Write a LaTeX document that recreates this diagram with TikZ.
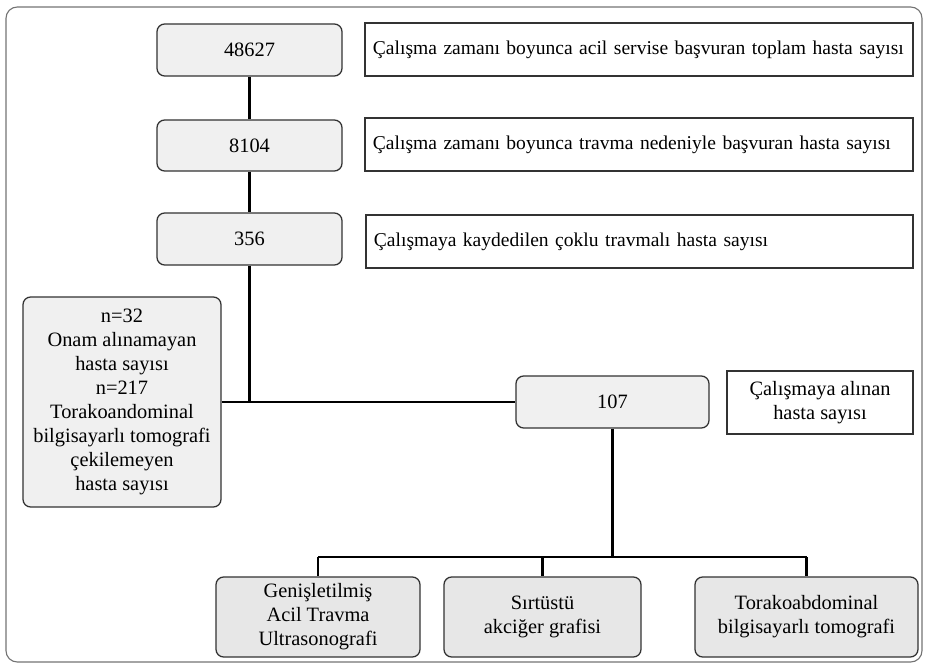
\documentclass[tikz,border=0pt]{standalone}
\usepackage{fontspec}
\setmainfont{Liberation Serif}
\begin{document}
\begin{tikzpicture}[x=0.025cm,y=-0.025cm,
  gbox/.style={draw=black!80,line width=0.9pt,rounded corners=5.5pt,fill=gray!12,inner sep=2pt,align=center,font=\fontsize{14.5}{17}\selectfont},
  dbox/.style={gbox,fill=gray!19},
  wbox/.style={draw=black!80,line width=0.9pt,fill=white,inner sep=0pt,font=\fontsize{13.9}{17}\selectfont},
  link/.style={line width=2pt,black}]

\useasboundingbox (0,0) rectangle (928,668);
\draw[black!55,line width=0.8pt,rounded corners=8pt] (6,7) rectangle (922,662);

% main column
\node[gbox,minimum width=4.625cm,minimum height=1.3cm] (A) at (249.5,50) {48627};
\node[gbox,minimum width=4.625cm,minimum height=1.275cm] (B) at (249.5,145.5) {8104};
\node[gbox,minimum width=4.625cm,minimum height=1.3cm] (C) at (249.5,239) {356};

% explanations
\node[wbox,minimum width=13.7cm,minimum height=1.325cm,text width=13.3cm,align=left] (A1) at (639,49.5) {Çalışma zamanı boyunca acil servise başvuran toplam hasta sayısı};
\node[wbox,minimum width=13.7cm,minimum height=1.325cm,text width=13.3cm,align=left] (B1) at (639,144.5) {Çalışma zamanı boyunca travma nedeniyle başvuran hasta sayısı};
\node[wbox,minimum width=13.675cm,minimum height=1.325cm,text width=13.275cm,align=left] (C1) at (639.5,241.5) {Çalışmaya kaydedilen çoklu travmalı hasta sayısı};

% exclusions and inclusion
\node[gbox,minimum width=4.95cm,minimum height=5.25cm] (D) at (122,402) {n=32\\Onam alınamayan\\hasta sayısı\\n=217\\Torakoandominal\\bilgisayarlı tomografi\\çekilemeyen\\hasta sayısı};
\node[gbox,minimum width=4.825cm,minimum height=1.3cm] (E) at (612.5,402) {107};
\node[wbox,minimum width=4.65cm,minimum height=1.575cm,align=center,font=\fontsize{14.5}{17}\selectfont] (E1) at (820,402.5) {Çalışmaya alınan\\hasta sayısı};

% imaging
\node[dbox,minimum width=5.1cm,minimum height=2cm] (F) at (318,617) {Genişletilmiş\\Acil Travma\\Ultrasonografi};
\node[dbox,minimum width=4.925cm,minimum height=2cm] (G) at (542.5,617) {Sırtüstü\\akciğer grafisi};
\node[dbox,minimum width=5.575cm,minimum height=2cm] (H) at (806.5,617) {Torakoabdominal\\bilgisayarlı tomografi};

\coordinate (J) at (612.5,557);

\draw[link] (A) -- (B);
\draw[link] (B) -- (C);
\draw[link] (C) -- (C.south |- D.east);
\draw[link] (D) -- (E);
\draw[link] (E) -- (J);
\draw[link] (F.north |- J) -- (H.north |- J);
\draw[link] (F.north |- J) -- (F);
\draw[link] (G.north |- J) -- (G);
\draw[link] (H.north |- J) -- (H);
\end{tikzpicture}
\end{document}
